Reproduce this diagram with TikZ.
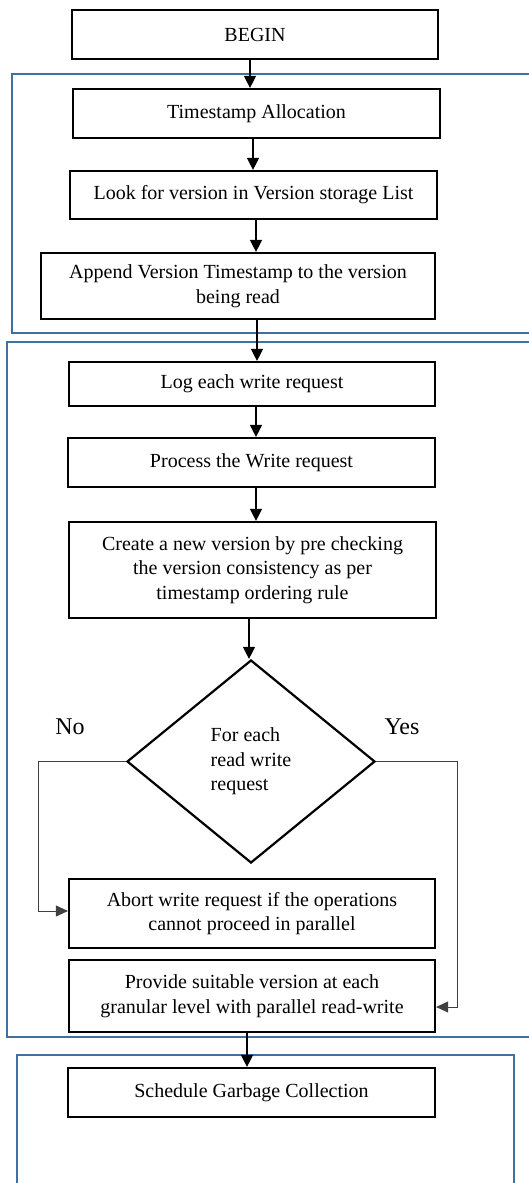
\documentclass[tikz,border=0pt]{standalone}
\usepackage{fontspec}
\setmainfont{Liberation Serif}
\usetikzlibrary{arrows.meta,shapes.geometric}
\definecolor{frameblue}{RGB}{65,113,160}
\begin{document}
\begin{tikzpicture}[x=1pt,y=-1pt,
  box/.style={draw=black,line width=2.2pt,inner sep=2pt,align=center,
    font=\fontsize{20}{24.5}\selectfont},
  dec/.style={draw=black,line width=2.2pt,diamond,inner sep=0pt,align=left,
    minimum width=248pt,minimum height=203pt,font=\fontsize{20}{24.5}\selectfont},
  frame/.style={draw=frameblue,line width=2pt},
  arr/.style={draw=black,line width=1.3pt,-{Triangle[length=12pt,width=12pt]}},
  side/.style={draw=black!75,line width=1pt,-{Triangle[length=12pt,width=11pt]}},
  lbl/.style={font=\fontsize{24}{28}\selectfont}]
\useasboundingbox (0,0) rectangle (529,1183);
\fill[white] (0,0) rectangle (529,1183);
% frames
\draw[frame] (12,74) rectangle (535,333);
\draw[frame] (7,342) rectangle (535,1037);
\draw[frame] (17,1055) rectangle (514,1195);
% nodes
\node[box,minimum width=366pt,minimum height=49pt] (begin) at (255,34.5) {BEGIN};
\node[box,minimum width=367pt,minimum height=49pt] (ts) at (256.5,113.5) {Timestamp Allocation};
\node[box,minimum width=367pt,minimum height=48pt] (look) at (253.5,195) {Look for version in Version storage List};
\node[box,minimum width=394pt,minimum height=66pt] (append) at (238,286) {Append Version Timestamp to the version\\being read};
\node[box,minimum width=366pt,minimum height=44pt] (log) at (252,384) {Log each write request};
\node[box,minimum width=367pt,minimum height=49pt] (proc) at (251.5,462.5) {Process the Write request};
\node[box,minimum width=367pt,minimum height=96pt] (create) at (252.5,570) {Create a new version by pre checking\\the version consistency as per\\timestamp ordering rule};
\node[dec] (dia) at (251,761.5) {For each\\read write\\request};
\node[box,minimum width=366pt,minimum height=69pt] (abort) at (252,913.5) {Abort write request if the operations\\cannot proceed in parallel};
\node[box,minimum width=366pt,minimum height=72pt] (provide) at (252,996) {Provide suitable version at each\\granular level with parallel read-write};
\node[box,minimum width=367pt,minimum height=49pt] (sched) at (251.5,1092.5) {Schedule Garbage Collection};
\node[lbl] (no) at (70,727) {No};
\node[lbl] (yes) at (402,727) {Yes};
% connectors
\draw[arr] ([xshift=-5pt]begin.south) -- ([xshift=-5pt]begin.south |- ts.north);
\draw[arr] ([xshift=-3.5pt]ts.south) -- ([xshift=-3.5pt]ts.south |- look.north);
\draw[arr] ([xshift=2.5pt]look.south) -- ([xshift=2.5pt]look.south |- append.north);
\draw[arr] ([xshift=19pt]append.south) -- ([xshift=19pt]append.south |- log.north);
\draw[arr] ([xshift=4pt]log.south) -- ([xshift=4pt]log.south |- proc.north);
\draw[arr] ([xshift=4.5pt]proc.south) -- ([xshift=4.5pt]proc.south |- create.north);
\draw[arr] ([xshift=-3.5pt]create.south) -- ([xshift=-3.5pt]create.south |- dia.north);
\draw[side] (dia.west) -- ++(-87,0) |- ([yshift=2.5pt]abort.west);
\draw[side] (dia.east) -- ++(81,0) |- ([yshift=-11pt]provide.east);
\draw[arr] ([xshift=-5pt]provide.south) -- ([xshift=-5pt]provide.south |- sched.north);
\end{tikzpicture}
\end{document}
